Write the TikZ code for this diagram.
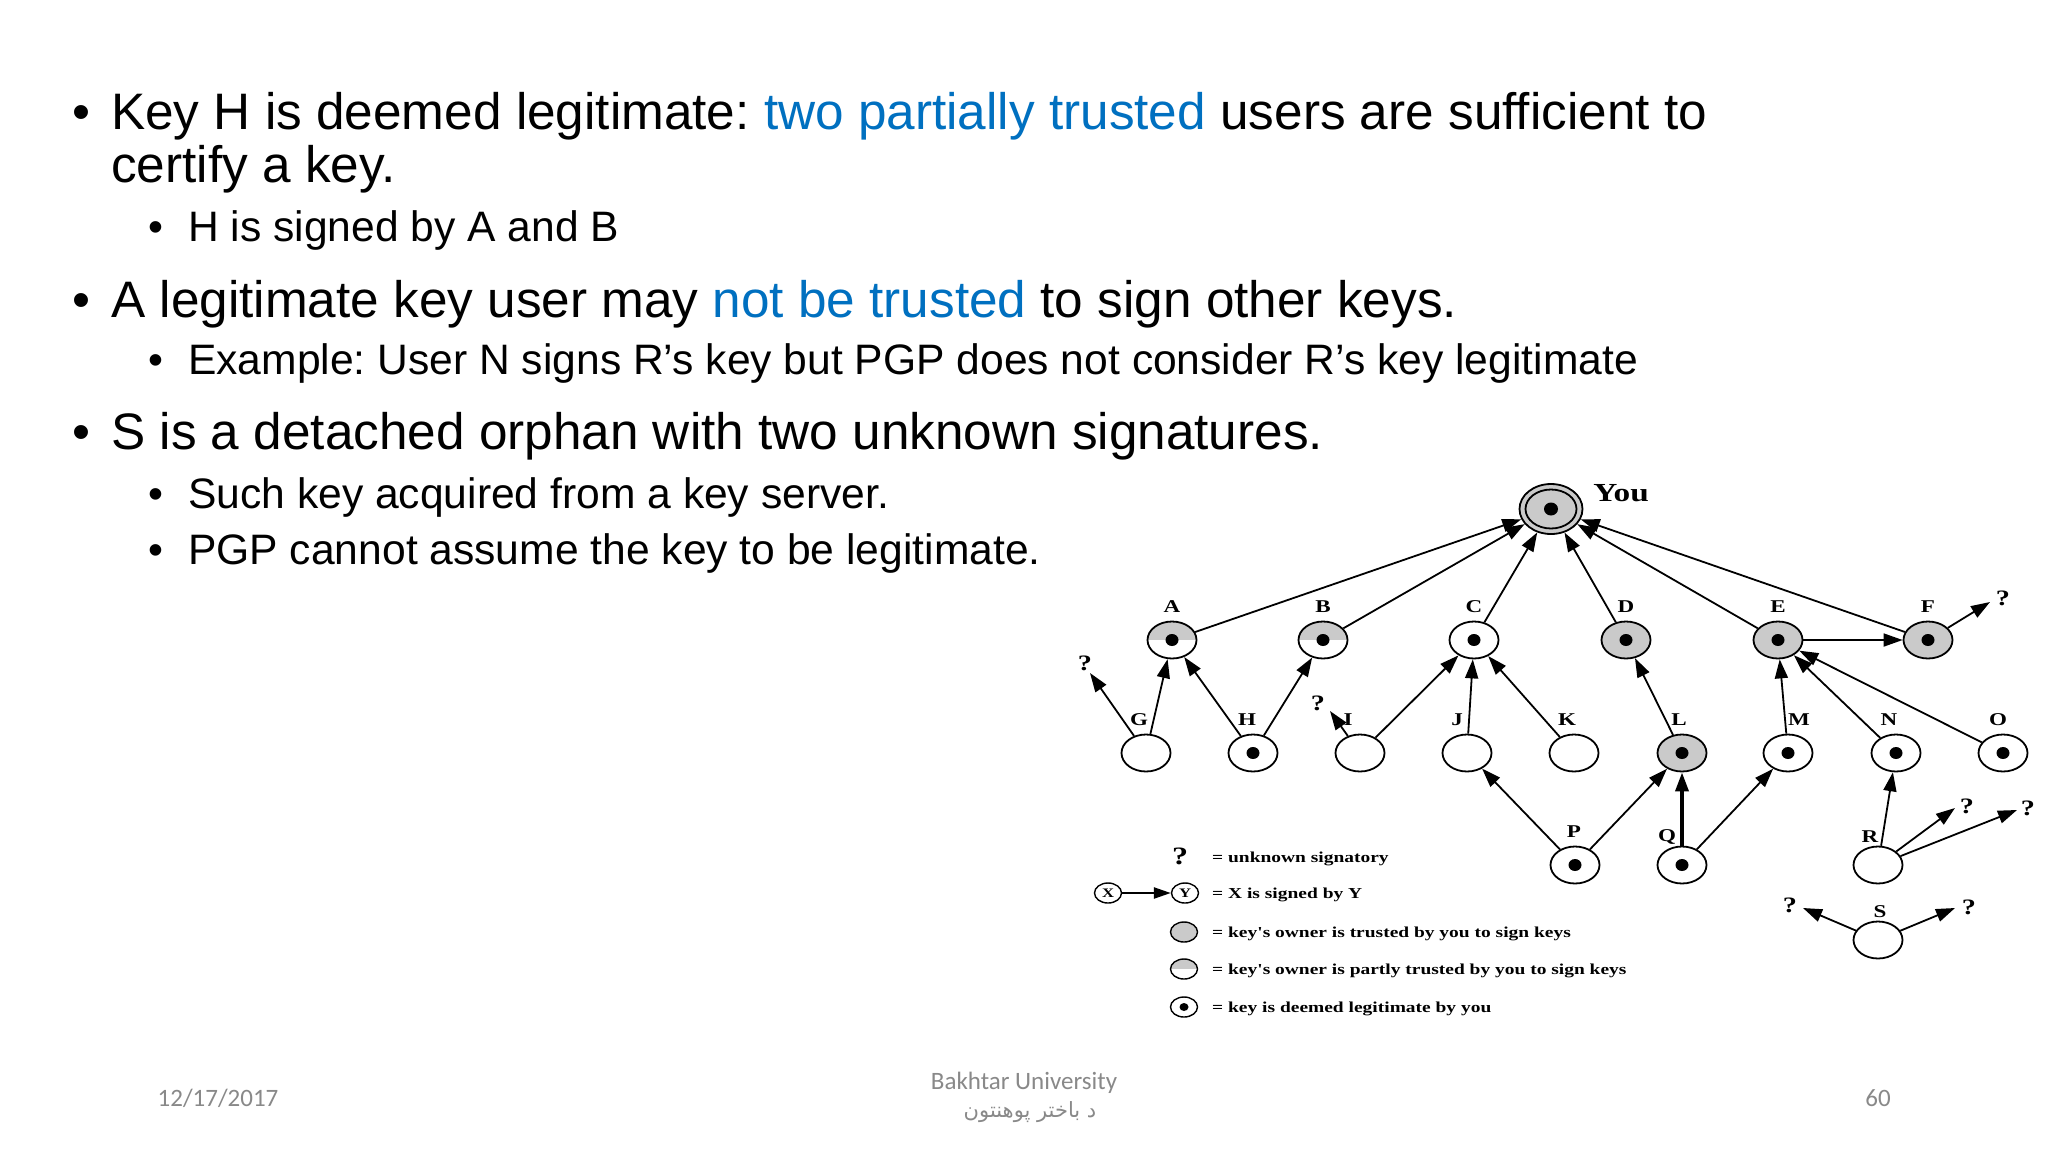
\documentclass[tikz,border=0pt]{standalone}
\usepackage{fontspec}
\usetikzlibrary{shapes.geometric,arrows.meta}
\TeXXeTstate=1
\frenchspacing
\setmainfont{Liberation Sans}
\newfontfamily\slidefont{Liberation Sans}
\newfontfamily\diagfont{Liberation Serif}[FakeStretch=1.28]
\newfontfamily\footfont{Carlito}
\newfontfamily\arabicfont[Script=Arabic]{DejaVu Sans}
\definecolor{kgrey}{RGB}{202,202,202}
\definecolor{sblue}{RGB}{0,112,192}
\definecolor{fgrey}{RGB}{137,137,137}
\begin{document}
\frenchspacing
\begin{tikzpicture}[x=1pt,y=-1pt,
  main/.style={anchor=base west, inner sep=0pt, font=\slidefont\fontsize{51.3}{61}\selectfont},
  sub/.style={anchor=base west, inner sep=0pt, font=\slidefont\fontsize{42.6}{51}\selectfont},
  keyn/.style={ellipse, draw, line width=1.8pt, minimum width=49pt, minimum height=37pt, inner sep=0pt, fill=white},
  trusted/.style={fill=kgrey},
  legit/.style={path picture={\fill[black] (path picture bounding box.center) ellipse (6.5pt and 6pt);}},
  partlegit/.style={path picture={\fill[kgrey] (path picture bounding box.north west) rectangle (path picture bounding box.east);\fill[black] (path picture bounding box.center) ellipse (6.5pt and 6pt);}},
  partial/.style={path picture={\fill[kgrey] (path picture bounding box.north west) rectangle (path picture bounding box.east);}},
  smalllegit/.style={path picture={\fill[black] (path picture bounding box.center) ellipse (4.5pt and 4pt);}},
  legk/.style={ellipse, draw, line width=1.4pt, minimum width=27pt, minimum height=20pt, inner sep=0pt, fill=white},
  lbl/.style={font=\diagfont\bfseries\fontsize{18}{20}\selectfont, inner sep=0pt},
  qm/.style={font=\diagfont\bfseries\fontsize{22}{24}\selectfont, inner sep=0pt},
  sig/.style={line width=1.8pt, -{Triangle[length=19pt,width=13pt]}},
  leg/.style={font=\diagfont\bfseries\fontsize{15.2}{17}\selectfont, anchor=base west, inner sep=0pt},
  foot/.style={font=\footfont\fontsize{25}{30}\selectfont, text=fgrey, inner sep=0pt},
]
\useasboundingbox (0,0) rectangle (2048,1152);
\fill[white] (0,0) rectangle (2048,1152);

% ---------- slide text ----------
\node[main] (b1) at (72,129) {•};
\node[main] (t1) at (111,129) {Key H is deemed legitimate: \textcolor{sblue}{two partially trusted} users are sufficient to};
\node[main] (t2) at (111,182) {certify a key.};
\node[sub] (b3) at (148,241) {•};
\node[sub] (t3) at (188,241) {H is signed by A and B};
\node[main] (b4) at (72,317) {•};
\node[main] (t4) at (111,317) {A legitimate key user may \textcolor{sblue}{not be trusted} to sign other keys.};
\node[sub] (b5) at (148,374) {•};
\node[sub] (t5) at (188,374) {Example: User N signs R’s key but PGP does not consider R’s key legitimate};
\node[main] (b6) at (72,449) {•};
\node[main] (t6) at (111,449) {S is a detached orphan with two unknown signatures.};
\node[sub] (b7) at (148,508) {•};
\node[sub] (t7) at (188,508) {Such key acquired from a key server.};
\node[sub] (b8) at (148,564) {•};
\node[sub] (t8) at (188,564) {PGP cannot assume the key to be legitimate.};

% ---------- key nodes ----------
\node[keyn, trusted, minimum width=63pt, minimum height=50pt,
  path picture={\draw[black, line width=1.8pt] (path picture bounding box.center) ellipse (25.5pt and 19.5pt);
                \fill[black] (path picture bounding box.center) ellipse (7pt and 6.5pt);}] (You) at (1551,509) {};
\node[lbl, font=\diagfont\bfseries\fontsize{26}{28}\selectfont] (lYou) at (1621,493) {You};

\node[keyn, partlegit] (A) at (1172,640) {};
\node[keyn, partlegit] (B) at (1323,640) {};
\node[keyn, legit] (C) at (1474,640) {};
\node[keyn, trusted, legit] (D) at (1626,640) {};
\node[keyn, trusted, legit] (E) at (1778,640) {};
\node[keyn, trusted, legit] (F) at (1928,640) {};
\node[keyn] (G) at (1146,753) {};
\node[keyn, legit] (H) at (1253,753) {};
\node[keyn] (I) at (1360,753) {};
\node[keyn] (J) at (1467,753) {};
\node[keyn] (K) at (1574,753) {};
\node[keyn, trusted, legit] (L) at (1682,753) {};
\node[keyn, legit] (M) at (1788,753) {};
\node[keyn, legit] (N) at (1896,753) {};
\node[keyn, legit] (O) at (2003,753) {};
\node[keyn, legit] (P) at (1575,865) {};
\node[keyn, legit] (Q) at (1682,865) {};
\node[keyn] (R) at (1878,865) {};
\node[keyn] (S) at (1878,940) {};

% ---------- labels ----------
\node[lbl] (lA) at (1172,607) {A};
\node[lbl] (lB) at (1323,607) {B};
\node[lbl] (lC) at (1474,607) {C};
\node[lbl] (lD) at (1626,607) {D};
\node[lbl] (lE) at (1778,607) {E};
\node[lbl] (lF) at (1928,607) {F};
\node[lbl] (lG) at (1139,720) {G};
\node[lbl] (lH) at (1247,720) {H};
\node[lbl] (lI) at (1348,720) {I};
\node[lbl] (lJ) at (1457,720) {J};
\node[lbl] (lK) at (1567,720) {K};
\node[lbl] (lL) at (1679,720) {L};
\node[lbl] (lM) at (1799,720) {M};
\node[lbl] (lN) at (1889,720) {N};
\node[lbl] (lO) at (1998,720) {O};
\node[lbl] (lP) at (1574,832) {P};
\node[lbl] (lQ) at (1667,837) {Q};
\node[lbl] (lR) at (1870,837) {R};
\node[lbl] (lS) at (1880,912) {S};

% ---------- unknown signatories ----------
\coordinate (tG) at (1090,673);
\coordinate (tI) at (1330,711);
\coordinate (tF) at (1990,602);
\coordinate (tR1) at (1955,808);
\coordinate (tR2) at (2017,810);
\coordinate (tS1) at (1803,908);
\coordinate (tS2) at (1955,908);
\node[qm] (qG) at (1085,663) {?};
\node[qm] (qI) at (1318,703) {?};
\node[qm] (qF) at (2003,598) {?};
\node[qm] (qR1) at (1967,806) {?};
\node[qm] (qR2) at (2028,808) {?};
\node[qm] (qS1) at (1790,905) {?};
\node[qm] (qS2) at (1969,907) {?};

% ---------- signatures ----------
\foreach \n in {A,B,C,D,E,F} \draw[sig] (\n) -- (You);
\draw[sig] (E) -- (F);
\draw[sig] (G) -- (A);
\draw[sig] (H) -- (A);
\draw[sig] (H) -- (B);
\draw[sig] (I) -- (C);
\draw[sig] (J) -- (C);
\draw[sig] (K) -- (C);
\draw[sig] (L) -- (D);
\draw[sig] (M) -- (E);
\draw[sig] (N) -- (E);
\draw[sig] (O) -- (E);
\draw[sig] (P) -- (J);
\draw[sig] (P) -- (L);
\draw[sig, line width=3.6pt] (Q) -- (L);
\draw[sig] (Q) -- (M);
\draw[sig] (R) -- (N);
\draw[sig] (G) -- (tG);
\draw[sig] (I) -- (tI);
\draw[sig] (F) -- (tF);
\draw[sig] (R) -- (tR1);
\draw[sig] (R) -- (tR2);
\draw[sig] (S) -- (tS1);
\draw[sig] (S) -- (tS2);

% ---------- legend ----------
\node[qm, font=\diagfont\bfseries\fontsize{25}{27}\selectfont] (lq) at (1180,856) {?};
\node[leg] (lt1) at (1212,862) {= unknown signatory};
\node[legk, font=\diagfont\bfseries\fontsize{13}{14}\selectfont] (lX) at (1108,893) {X};
\node[legk, font=\diagfont\bfseries\fontsize{13}{14}\selectfont] (lY) at (1185,893) {Y};
\draw[line width=2.4pt, -{Triangle[length=17pt,width=11pt]}] (lX) -- (lY);
\node[leg] (lt2) at (1212,898) {= X is signed by Y};
\node[legk, trusted] (lg) at (1184,932) {};
\node[leg] (lt3) at (1212,937) {= key's owner is trusted by you to sign keys};
\node[legk, partial] (lp) at (1184,969) {};
\node[leg] (lt4) at (1212,974) {= key's owner is partly trusted by you to sign keys};
\node[legk, smalllegit] (ll) at (1184,1007) {};
\node[leg] (lt5) at (1212,1012) {= key is deemed legitimate by you};

% ---------- footer ----------
\node[foot] (date) at (218,1098) {12/17/2017};
\node[foot] (uni) at (1024,1083) {Bakhtar University};
\node[foot, font=\arabicfont\fontsize{21}{24}\selectfont] (uniar) at (1030,1112) {\beginR د باختر پوهنتون\endR};
\node[foot] (pg) at (1878,1098) {60};
\end{tikzpicture}
\end{document}
